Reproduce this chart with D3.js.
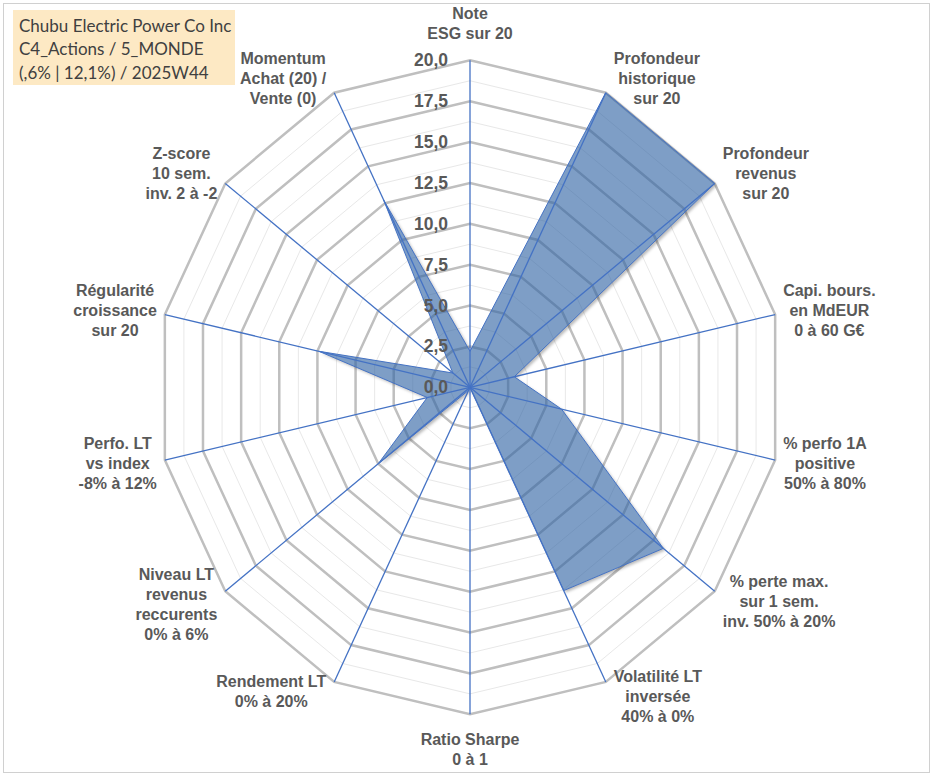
<!DOCTYPE html>
<html>
<head>
<meta charset="utf-8">
<script src="https://cdn.jsdelivr.net/npm/d3@7/dist/d3.min.js"></script>
<style>
  html, body { margin: 0; padding: 0; background: #ffffff; }
  svg { display: block; }
  .lbl { font-family: "Liberation Sans", Arial, Helvetica, sans-serif; font-weight: bold; }
  .ttl { font-family: "Lato", "Open Sans", sans-serif; }
</style>
</head>
<body>
<svg id="chart" width="933" height="776"></svg>
<script>
// ---- data ----
const categories = [
  ["Note", "ESG sur 20"],
  ["Profondeur", "historique", "sur 20"],
  ["Profondeur", "revenus", "sur 20"],
  ["Capi. bours.", "en MdEUR", "0 à 60 G€"],
  ["% perfo 1A", "positive", "50% à 80%"],
  ["% perte max.", "sur 1 sem.", "inv. 50% à 20%"],
  ["Volatilité LT", "inversée", "40% à 0%"],
  ["Ratio Sharpe", "0 à 1"],
  ["Rendement LT", "0% à 20%"],
  ["Niveau LT", "revenus", "reccurents", "0% à 6%"],
  ["Perfo. LT", "vs index", "-8% à 12%"],
  ["Régularité", "croissance", "sur 20"],
  ["Z-score", "10 sem.", "inv. 2 à -2"],
  ["Momentum", "Achat (20) /", "Vente (0)"]
];
const values = [2.2, 20, 20, 2.9, 6.0, 15.8, 13.8, 0, 0.2, 7.5, 2.8, 9.9, 1.4, 12.7];
const majorTicks = [0, 2.5, 5, 7.5, 10, 12.5, 15, 17.5, 20];
const minorTicks = [1.25, 3.75, 6.25, 8.75, 11.25, 13.75, 16.25, 18.75];
const tickLabels = ["0,0", "2,5", "5,0", "7,5", "10,0", "12,5", "15,0", "17,5", "20,0"];
const titleLines = ["Chubu Electric Power Co Inc", "C4_Actions / 5_MONDE", "(,6% | 12,1%) / 2025W44"];

// ---- layout ----
const W = 933, H = 776;
const cx = 470, cy = 387.3, rx = 313, ry = 327;
const n = categories.length;
const svg = d3.select("#chart");

const r = d3.scaleLinear().domain([0, 20]).range([0, 1]);
const ang = d3.scaleLinear().domain([0, n]).range([0, 2 * Math.PI]);
const px = (i, v) => cx + rx * r(v) * Math.sin(ang(i));
const py = (i, v) => cy - ry * r(v) * Math.cos(ang(i));

// chart border
svg.append("rect").attr("x", 3.5).attr("y", 3.5).attr("width", W - 7).attr("height", H - 7)
  .attr("fill", "#fff").attr("stroke", "#d0d0d0").attr("stroke-width", 1);

const ringLine = d3.line().x(d => d[0]).y(d => d[1]).curve(d3.curveLinearClosed);
const ringPts = v => d3.range(n).map(i => [px(i, v), py(i, v)]);

// minor rings
svg.append("g").selectAll("path").data(minorTicks).join("path")
  .attr("d", v => ringLine(ringPts(v)))
  .attr("fill", "none").attr("stroke", "#e8e8e8").attr("stroke-width", 1);
// major rings
svg.append("g").selectAll("path").data(majorTicks.filter(v => v > 0)).join("path")
  .attr("d", v => ringLine(ringPts(v)))
  .attr("fill", "none").attr("stroke", "#bfbfbf").attr("stroke-width", 2.5);

// data polygon path
const polyD = ringLine(values.map((v, i) => [px(i, v), py(i, v)]));

// shadow only outside the polygon
const defs = svg.append("defs");
defs.append("filter").attr("id", "blur").attr("x", "-10%").attr("y", "-10%").attr("width", "130%").attr("height", "130%")
  .append("feGaussianBlur").attr("stdDeviation", 1.6);
const mask = defs.append("mask").attr("id", "outside");
mask.append("rect").attr("x", 0).attr("y", 0).attr("width", W).attr("height", H).attr("fill", "#fff");
mask.append("path").attr("d", polyD).attr("fill", "#000");
svg.append("g").attr("mask", "url(#outside)")
  .append("path").attr("d", polyD)
  .attr("transform", "translate(2,2)")
  .attr("fill", "#000").attr("fill-opacity", 0.28)
  .attr("filter", "url(#blur)");

svg.append("path")
  .attr("d", polyD)
  .attr("fill", "#2f62a3").attr("fill-opacity", 0.62)
  .attr("stroke", "#4472c4").attr("stroke-width", 1);

// spokes
svg.append("g").selectAll("line").data(d3.range(n)).join("line")
  .attr("x1", cx).attr("y1", cy)
  .attr("x2", i => px(i, 20)).attr("y2", i => py(i, 20))
  .attr("stroke", "#4472c4").attr("stroke-width", 1.3);

// tick labels
svg.append("g").attr("class", "lbl").selectAll("text").data(majorTicks).join("text")
  .attr("x", 448).attr("y", v => cy - ry * r(v))
  .attr("text-anchor", "end").attr("dominant-baseline", "central")
  .attr("font-size", "17.5px").attr("fill", "#595959")
  .text((v, i) => tickLabels[i]);

// category labels
const lh = 20;
const lg = svg.append("g").attr("class", "lbl")
  .attr("font-size", "16px").attr("fill", "#595959");
categories.forEach((lines, i) => {
  const t = lg.append("text").attr("text-anchor", "middle");
  const sp = lines.map(s => t.append("tspan").text(s));
  const w = d3.max(sp, s => s.node().getComputedTextLength());
  const h = lines.length * lh;
  const s = Math.sin(ang(i)), c = Math.cos(ang(i));
  const Px = px(i, 20), Py = py(i, 20);
  let gx, gy;
  if (Math.abs(s) < 0.05) {
    gx = Px;
    gy = c > 0 ? Py - h / 2 - 17 : Py + h / 2 + 15;
  } else {
    gx = Px + Math.sign(s) * (w / 2 + 8);
    gy = Py - c * h * 0.27;
  }
  sp.forEach((tsp, k) => {
    tsp.attr("x", gx).attr("y", gy - h / 2 + lh / 2 + k * lh).attr("dominant-baseline", "central");
  });
});

// title box
svg.append("rect").attr("x", 13).attr("y", 10).attr("width", 222).attr("height", 75)
  .attr("fill", "#fde9c4");
svg.append("g").attr("class", "ttl").selectAll("text").data(titleLines).join("text")
  .attr("x", 19).attr("y", (d, i) => 25 + i * 23.8)
  .attr("dominant-baseline", "central")
  .attr("font-size", "17px").attr("fill", "#404040")
  .text(d => d);
</script>
</body>
</html>
